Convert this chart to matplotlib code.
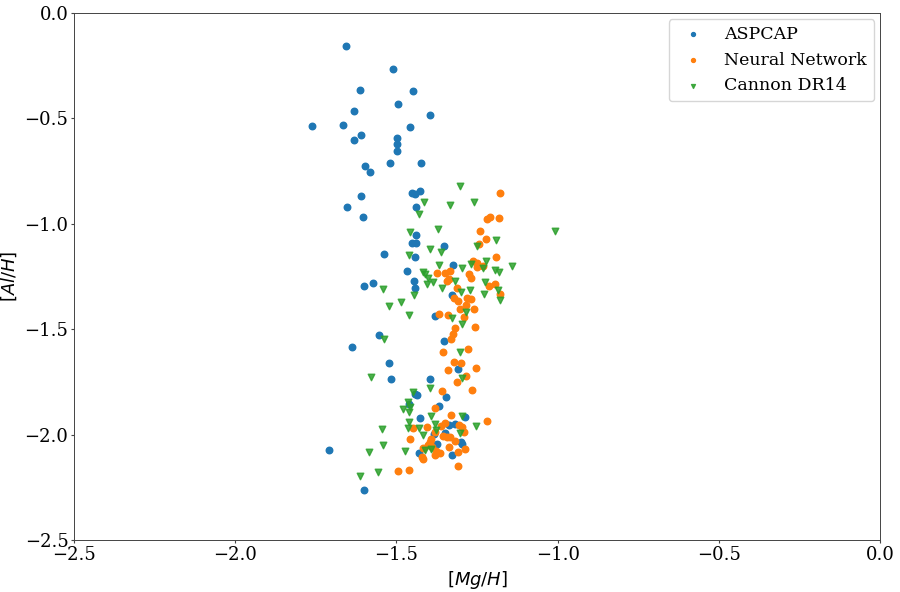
import numpy as np
import matplotlib
matplotlib.use("Agg")
import matplotlib.pyplot as plt

plt.rcParams['font.family'] = 'DejaVu Serif'
plt.rcParams['font.size'] = 12

# ASPCAP
aspcap_mg = [-1.655, -1.511, -1.612, -1.448, -1.495, -1.632, -1.396, -1.763, -1.666, -1.459,
             -1.609, -1.632, -1.499, -1.499, -1.497, -1.598, -1.582, -1.519, -1.424, -1.451,
             -1.444, -1.426, -1.609, -1.653, -1.605, -1.440, -1.440, -1.451, -1.439, -1.352,
             -1.538, -1.444, -1.324, -1.468, -1.445, -1.443, -1.601, -1.574, -1.327, -1.382,
             -1.554, -1.639, -1.352, -1.524, -1.517, -1.396, -1.308, -1.442, -1.437, -1.346,
             -1.368, -1.428, -1.709, -1.601, -1.460, -1.286, -1.336, -1.317, -1.351, -1.384,
             -1.301, -1.297, -1.373, -1.429, -1.328]
aspcap_al = [-0.158, -0.267, -0.364, -0.371, -0.433, -0.465, -0.482, -0.536, -0.533, -0.539,
             -0.577, -0.602, -0.592, -0.623, -0.653, -0.726, -0.753, -0.712, -0.712, -0.854,
             -0.857, -0.846, -0.870, -0.919, -0.966, -0.922, -1.053, -1.091, -1.090, -1.105,
             -1.142, -1.159, -1.194, -1.225, -1.273, -1.306, -1.294, -1.282, -1.338, -1.436,
             -1.528, -1.586, -1.555, -1.662, -1.738, -1.738, -1.689, -1.807, -1.812, -1.820,
             -1.864, -1.920, -2.072, -2.264, -1.855, -1.915, -1.954, -1.948, -1.991, -1.999,
             -2.034, -2.045, -2.046, -2.089, -2.097]

# Neural Network
nn_mg = [-1.180, -1.219, -1.210, -1.181, -1.242, -1.221, -1.244, -1.190, -1.262, -1.249,
         -1.250, -1.232, -1.374, -1.348, -1.333, -1.276, -1.268, -1.338, -1.344, -1.196,
         -1.212, -1.312, -1.180, -1.280, -1.268, -1.322, -1.310, -1.285, -1.304, -1.260,
         -1.367, -1.340, -1.290, -1.319, -1.256, -1.324, -1.331, -1.355, -1.277, -1.322,
         -1.300, -1.340, -1.254, -1.283, -1.313, -1.358, -1.266, -1.382, -1.331, -1.219,
         -1.404, -1.449, -1.350, -1.362, -1.306, -1.297, -1.292, -1.380, -1.356, -1.342,
         -1.334, -1.320, -1.459, -1.393, -1.396, -1.401, -1.389, -1.417, -1.336, -1.288,
         -1.378, -1.365, -1.380, -1.420, -1.418, -1.310, -1.308, -1.461, -1.496]
nn_al = [-0.852, -0.977, -0.966, -0.971, -1.036, -1.071, -1.096, -1.159, -1.175, -1.185,
         -1.206, -1.200, -1.235, -1.235, -1.222, -1.240, -1.256, -1.260, -1.271, -1.286,
         -1.294, -1.306, -1.332, -1.351, -1.355, -1.353, -1.366, -1.384, -1.403, -1.406,
         -1.428, -1.434, -1.441, -1.493, -1.490, -1.523, -1.545, -1.610, -1.592, -1.656,
         -1.662, -1.694, -1.686, -1.723, -1.750, -1.793, -1.790, -1.874, -1.907, -1.934,
         -1.965, -1.969, -1.946, -1.958, -1.954, -1.965, -1.989, -1.986, -2.007, -2.013,
         -2.010, -2.030, -2.022, -2.022, -2.034, -2.049, -2.060, -2.065, -2.057, -2.068,
         -2.076, -2.089, -2.097, -2.105, -2.117, -2.081, -2.149, -2.168, -2.173]

# Cannon DR14
cannon_mg = [-1.414, -1.333, -1.430, -1.459, -1.372, -1.304, -1.260, -1.009, -1.191, -1.251,
             -1.397, -1.362, -1.460, -1.221, -1.268, -1.368, -1.297, -1.231, -1.141, -1.194,
             -1.181, -1.417, -1.411, -1.403, -1.386, -1.404, -1.317, -1.225, -1.358, -1.541,
             -1.299, -1.271, -1.230, -1.186, -1.178, -1.445, -1.486, -1.523, -1.283, -1.461,
             -1.328, -1.297, -1.538, -1.304, -1.579, -1.297, -1.396, -1.448, -1.465, -1.480,
             -1.458, -1.460, -1.394, -1.462, -1.545, -1.541, -1.585, -1.472, -1.612, -1.556,
             -1.254, -1.297, -1.463, -1.430, -1.379, -1.377, -1.417, -1.304, -1.411, -1.394]
cannon_al = [-0.898, -0.911, -0.952, -1.041, -1.026, -0.821, -0.895, -1.034, -1.078, -1.107,
             -1.120, -1.135, -1.147, -1.175, -1.191, -1.195, -1.211, -1.211, -1.199, -1.219,
             -1.229, -1.230, -1.240, -1.256, -1.278, -1.287, -1.271, -1.275, -1.306, -1.308,
             -1.325, -1.314, -1.333, -1.315, -1.363, -1.339, -1.371, -1.389, -1.417, -1.433,
             -1.448, -1.477, -1.545, -1.608, -1.725, -1.730, -1.780, -1.799, -1.844, -1.880,
             -1.871, -1.891, -1.914, -1.938, -1.975, -2.049, -2.083, -2.078, -2.198, -2.179,
             -1.957, -1.914, -1.969, -1.969, -1.950, -1.978, -2.000, -1.994, -2.073, -2.068]

fig = plt.figure(figsize=(9, 5.92), dpi=100)
ax = fig.add_axes([0.0822, 0.0878, 0.8958, 0.8902])

ax.scatter(aspcap_mg, aspcap_al, s=22, color='#1f77b4', label='ASPCAP')
ax.scatter(nn_mg, nn_al, s=22, color='#ff7f0e', label='Neural Network')
ax.scatter(cannon_mg, cannon_al, s=22, marker='v', color='#2ca02c', alpha=0.85, label='Cannon DR14')

ax.set_xlim(-2.5, 0.0)
ax.set_ylim(-2.5, 0.0)
ax.set_xlabel('$[Mg/H]$', fontsize=13, labelpad=4)
ax.set_ylabel('$[Al/H]$', fontsize=13, labelpad=4)
ax.tick_params(labelsize=13, length=2, pad=2, color='#444444')
for sp in ax.spines.values():
    sp.set_linewidth(0.7)
    sp.set_color('#444444')
ax.legend(loc='upper right', fontsize=12.5, markerscale=0.6, borderaxespad=0.35)

fig.savefig('out.png', dpi=100)
